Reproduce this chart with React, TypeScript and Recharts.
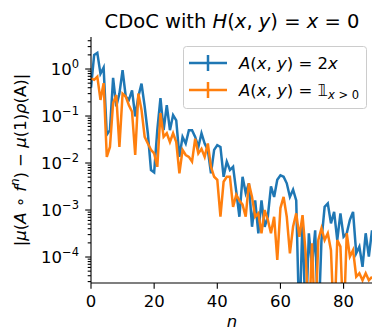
import { LineChart, Line, XAxis, YAxis } from "recharts";

// step index n = 0..89
const steps = Array.from({ length: 90 }, (_, i) => i);

// |mu(A o f^n) - mu(1) rho(A)| for A(x, y) = 2x
const linearObs = [
  0.4, 2.0, 2.2, 0.79, 1.07, 0.04, 0.05, 0.65, 0.16, 0.3,
  0.95, 0.26, 0.22, 0.35, 0.098, 0.26, 0.49, 0.16, 0.043, 0.0071,
  0.0063, 0.05, 0.24, 0.05, 0.17, 0.05, 0.105, 0.081, 0.0135, 0.036,
  0.026, 0.05, 0.05, 0.036, 0.022, 0.043, 0.026, 0.019, 0.006, 0.019,
  0.024, 0.022, 0.0051, 0.0107, 0.0071, 0.0083, 0.0025, 0.00072, 0.0051, 0.0023,
  0.0037, 0.00044, 0.0016, 0.00032, 0.0016, 0.00044, 0.00072, 0.0032, 0.0019, 0.0044,
  0.0055, 0.0051, 0.0037, 0.0019, 0.0027, 0.0016, 0.000003, 0.00072, 0.000003, 0.00032,
  0.000063, 0.00037, 0.000003, 0.00023, 0.00117, 0.00138, 0.00052, 0.00091, 0.00023, 0.00085,
  0.00027, 0.00032, 0.00062, 0.00091, 0.00012, 0.000166, 0.000062, 0.00032, 0.000102, 0.00037,
];

// same quantity for A(x, y) = 1_{x>0}
const indicatorObs = [
  0.63, 0.59, 0.69, 0.22, 0.5, 0.0135, 0.022, 0.19, 0.28, 0.022,
  0.3, 0.26, 0.17, 0.123, 0.0148, 0.3, 0.135, 0.036, 0.026, 0.019,
  0.016, 0.0083, 0.115, 0.036, 0.043, 0.028, 0.043, 0.028, 0.006, 0.019,
  0.0148, 0.0135, 0.0107, 0.033, 0.016, 0.02, 0.0135, 0.026, 0.0083, 0.0051,
  0.0044, 0.00072, 0.004, 0.0051, 0.0051, 0.00117, 0.0021, 0.0016, 0.0013, 0.00072,
  0.0037, 0.0019, 0.00072, 0.00085, 0.00032, 0.001, 0.00062, 0.00032, 0.00072, 0.000087,
  0.0011, 0.0019, 0.00072, 0.00012, 0.00044, 0.00085, 0.00027, 0.00078, 0.00012, 0.000003,
  0.000195, 0.000003, 0.00023, 0.00041, 0.00023, 0.00032, 0.00014, 0.000003, 0.00023, 0.000166,
  0.000003, 0.00032, 0.000102, 0.00014, 0.000038, 0.000045, 0.000032, 0.000045, 0.000032, 0.000038,
];

const xTicks = [0, 20, 40, 60, 80];
const majorTicks = [1e-4, 1e-3, 1e-2, 1e-1, 1];
const minorTicks = [
  3e-5, 4e-5, 5e-5, 6e-5, 7e-5, 8e-5, 9e-5,
  2e-4, 3e-4, 4e-4, 5e-4, 6e-4, 7e-4, 8e-4, 9e-4,
  2e-3, 3e-3, 4e-3, 5e-3, 6e-3, 7e-3, 8e-3, 9e-3,
  2e-2, 3e-2, 4e-2, 5e-2, 6e-2, 7e-2, 8e-2, 9e-2,
  0.2, 0.3, 0.4, 0.5, 0.6, 0.7, 0.8, 0.9,
  2, 3, 4,
];

const data = steps.map((n, i) => ({
  n,
  linear: linearObs[i],
  indicator: indicatorObs[i],
}));

const BLUE = "#1f77b4";
const ORANGE = "#ff7f0e";
const FONT = "DejaVu Sans";

// y ticks: draws its own tick mark (long for decades, short otherwise)
function LogTick(props: any) {
  const { x, y, payload } = props;
  const v = payload.value;
  const exp = Math.round(Math.log10(v));
  const isMajor = Math.abs(v - Math.pow(10, exp)) < 1e-12 * Math.max(1, v);
  return (
    <g>
      <line x1={x} x2={x - (isMajor ? 5.8 : 3.3)} y1={y} y2={y} stroke="#000" strokeWidth={1.1} />
      {isMajor && (
        <text x={x - 12} y={y + 6} textAnchor="end" fontSize={16.5} fontFamily={FONT} fill="#000">
          10
          <tspan fontSize={11.5} dy={-7}>
            {exp < 0 ? `\u2212${-exp}` : `${exp}`}
          </tspan>
        </text>
      )}
    </g>
  );
}

function Overlay() {
  return (
    <svg
      width={372}
      height={330}
      style={{ position: "absolute", left: 0, top: 0, pointerEvents: "none" }}
      fontFamily={FONT}
    >
      <text x={232} y={28} textAnchor="middle" fontSize={19.5} fill="#000">
        CDoC with <tspan fontStyle="italic">H</tspan>(<tspan fontStyle="italic">x</tspan>,{" "}
        <tspan fontStyle="italic">y</tspan>) = <tspan fontStyle="italic">x</tspan> = 0
      </text>

      <text x={232} y={327} textAnchor="middle" fontSize={16.5} fontStyle="italic" fill="#000">
        n
      </text>

      <text
        transform="translate(26,160) rotate(-90)"
        textAnchor="middle"
        fontSize={16.5}
        fill="#000"
      >
        |<tspan fontStyle="italic">μ</tspan>(<tspan fontStyle="italic">A</tspan> ∘{" "}
        <tspan fontStyle="italic">f</tspan>
        <tspan fontStyle="italic" fontSize={11.5} dy={-7}>n</tspan>
        <tspan dy={7}>) − </tspan>
        <tspan fontStyle="italic">μ</tspan>(1)<tspan fontStyle="italic">ρ</tspan>(A)|
      </text>

      <rect x={183.5} y={46.5} width={183} height={62} rx={3} fill="#fff" fillOpacity={0.8} stroke="#cccccc" />
      <line x1={189} x2={227} y1={63} y2={63} stroke={BLUE} strokeWidth={2.5} />
      <line x1={208} x2={208} y1={55} y2={71} stroke={BLUE} strokeWidth={2.5} />
      <text x={239} y={69} fontSize={16.5} fill="#000">
        <tspan fontStyle="italic">A</tspan>(<tspan fontStyle="italic">x</tspan>,{" "}
        <tspan fontStyle="italic">y</tspan>) = 2<tspan fontStyle="italic">x</tspan>
      </text>
      <line x1={189} x2={227} y1={90} y2={90} stroke={ORANGE} strokeWidth={2.5} />
      <line x1={208} x2={208} y1={82} y2={98} stroke={ORANGE} strokeWidth={2.5} />
      <text x={239} y={96} fontSize={16.5} fill="#000">
        <tspan fontStyle="italic">A</tspan>(<tspan fontStyle="italic">x</tspan>,{" "}
        <tspan fontStyle="italic">y</tspan>) = 𝟙
        <tspan fontSize={11.5} dy={3}>
          <tspan fontStyle="italic">x</tspan> &gt; 0
        </tspan>
      </text>
    </svg>
  );
}

export default function App() {
  return (
    <div style={{ position: "fixed", left: 0, top: 0, width: 372, height: 330, background: "#fff" }}>
      <LineChart width={372} height={330} data={data} margin={{ top: 37, right: 0, left: 0, bottom: 0 }}>
        <XAxis
          dataKey="n"
          type="number"
          domain={[0, 89]}
          ticks={xTicks}
          interval={0}
          allowDataOverflow
          height={47}
          tickSize={5.8}
          tickMargin={6}
          axisLine={{ stroke: "#000", strokeWidth: 1.1 }}
          tickLine={{ stroke: "#000", strokeWidth: 1.1 }}
          tick={{ fill: "#000", fontSize: 16.5, fontFamily: FONT }}
        />
        <XAxis
          xAxisId="top"
          orientation="top"
          dataKey="n"
          type="number"
          domain={[0, 89]}
          height={0}
          tick={false}
          tickLine={false}
          axisLine={{ stroke: "#000", strokeWidth: 1.1 }}
        />
        <YAxis
          type="number"
          scale="log"
          domain={[2.8e-5, 4.8]}
          allowDataOverflow
          ticks={[...minorTicks, ...majorTicks]}
          interval={0}
          width={91}
          tickSize={0}
          tickMargin={0}
          tickLine={false}
          axisLine={{ stroke: "#000", strokeWidth: 1.1 }}
          tick={<LogTick />}
        />
        <Line
          type="linear"
          dataKey="linear"
          stroke={BLUE}
          strokeWidth={2.5}
          dot={false}
          isAnimationActive={false}
        />
        <Line
          type="linear"
          dataKey="indicator"
          stroke={ORANGE}
          strokeWidth={2.5}
          dot={false}
          isAnimationActive={false}
        />
      </LineChart>
      <Overlay />
    </div>
  );
}
